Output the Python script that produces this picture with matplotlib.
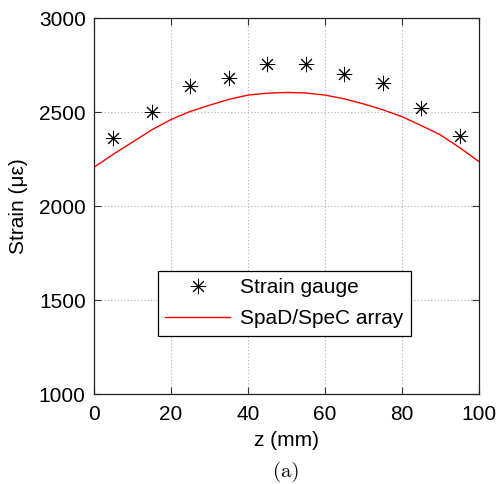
import matplotlib
matplotlib.use("Agg")
import matplotlib.pyplot as plt

# Data
gauge_z = [5, 15, 25, 35, 45, 55, 65, 75, 85, 95]
gauge_strain = [2360, 2502, 2638, 2681, 2754, 2755, 2702, 2656, 2520, 2374]

array_z = [0, 5, 10, 15, 20, 25, 30, 35, 40, 45, 50, 55, 60, 65, 70, 75, 80, 85, 90, 95, 100]
array_strain = [2206, 2275, 2340, 2405, 2460, 2503, 2536, 2567, 2590, 2600, 2604, 2601,
                2590, 2570, 2543, 2512, 2475, 2428, 2378, 2310, 2236]

xticks = [0, 20, 40, 60, 80, 100]
yticks = [1000, 1500, 2000, 2500, 3000]

plt.rcParams['font.family'] = ['Liberation Sans', 'DejaVu Sans']

fig = plt.figure(figsize=(4.97, 4.84), dpi=100)
ax = fig.add_axes([94/497, 1 - 394/484, (479-94)/497, (394-18)/484])

ax.plot(gauge_z, gauge_strain, linestyle='none', marker=(8, 2, 0), markersize=11,
        markeredgewidth=0.7, color='black', label='Strain gauge')
ax.plot(array_z, array_strain, color='#ff0000', linewidth=1.0, label='SpaD/SpeC array')

ax.set_xlim(0, 100)
ax.set_ylim(1000, 3000)
ax.set_xticks(xticks)
ax.set_yticks(yticks)
ax.tick_params(axis='both', direction='in', top=True, right=True, labelsize=15, length=5,
               width=0.8, colors='#333333', labelcolor='black')
ax.tick_params(axis='x', pad=8)
ax.tick_params(axis='y', pad=6)
ax.grid(True, linestyle=(0, (1, 2)), color='#b0b0b0', linewidth=0.8)
for s in ax.spines.values():
    s.set_color('#222222')
    s.set_linewidth(0.9)

ax.set_xlabel('z (mm)', fontsize=15, labelpad=5)
ax.set_ylabel('Strain (\u03bc\u03b5)', fontsize=15, labelpad=8)

leg = ax.legend(loc='upper left', bbox_to_anchor=((158-94)/385, (394-270.7)/376),
                fontsize=15, frameon=True, fancybox=False, edgecolor='black',
                framealpha=1, borderpad=0.35, handlelength=3.1, handletextpad=0.5,
                labelspacing=0.6, borderaxespad=0)
leg.get_frame().set_linewidth(0.9)

fig.text(286/497, 1 - 472/484, '(a)', fontsize=15, family='cmr10', ha='center', va='center')

fig.savefig('out.png', dpi=100)
